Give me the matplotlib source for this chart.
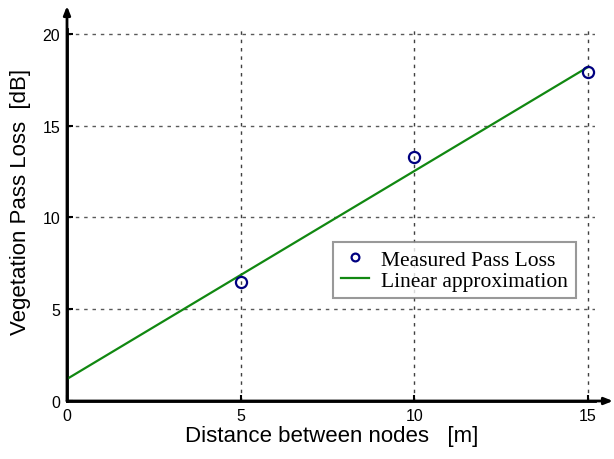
import matplotlib
matplotlib.use("Agg")
import matplotlib.pyplot as plt
import numpy as np

# measured loss at each node spacing
distance = [5, 10, 15]
pass_loss = [6.5, 13.3, 17.9]

# fitted line end points
fit_x = [0, 15]
fit_y = [1.2, 18.2]

xticks = [0, 5, 10, 15]
yticks = [0, 5, 10, 15, 20]

W, H = 614, 460
fig = plt.figure(figsize=(W / 100, H / 100), dpi=100)
ax = fig.add_axes([67 / W, 58 / H, 528 / W, 372 / H])
ax.set_xlim(0, 15.2)
ax.set_ylim(0, 20.27)

# dotted grid, drawn by hand so it stops at the axis limits
for x in xticks[1:]:
    ax.plot([x, x], [0, 20.27], color="0.25", lw=1, ls=(0, (2.5, 3.5)), zorder=1)
for y in yticks[1:]:
    ax.plot([0, 15.2], [y, y], color="0.35", lw=1, ls=(0, (2.5, 3.5)), zorder=1)

ax.plot(fit_x, fit_y, color="#118811", lw=1.6, label="Linear approximation", zorder=3)
ax.plot(distance, pass_loss, ls="none", marker="o", ms=8, mfc="none", mec="#000080",
        mew=1.6, label="Measured Pass Loss", zorder=4)

for s in ["top", "right"]:
    ax.spines[s].set_visible(False)
for s in ["left", "bottom"]:
    ax.spines[s].set_linewidth(2)

# axis arrows past the limits
ax.annotate("", xy=(613 / W, 58 / H), xytext=(67 / W, 58 / H), xycoords="figure fraction",
            arrowprops=dict(arrowstyle="-|>,head_length=0.5,head_width=0.2", lw=2, color="black",
                            shrinkA=0, shrinkB=0))
ax.annotate("", xy=(67 / W, 1 - 7 / H), xytext=(67 / W, 58 / H), xycoords="figure fraction",
            arrowprops=dict(arrowstyle="-|>,head_length=0.5,head_width=0.2", lw=2, color="black",
                            shrinkA=0, shrinkB=0))

ax.set_xticks(xticks)
ax.set_yticks(yticks)
ax.tick_params(direction="in", length=4, width=1.5, labelsize=11.5, pad=5,
               labelfontfamily="Liberation Sans")

ax.set_xlabel("Distance between nodes   [m]", fontsize=16, family="Liberation Sans")
ax.set_ylabel("Vegetation Pass Loss  [dB]", fontsize=16, family="Liberation Sans")
ax.xaxis.set_label_coords(0.501, -0.0645)
ax.yaxis.set_label_coords(-0.068, 0.539)

handles, labels = ax.get_legend_handles_labels()
leg = ax.legend(handles[::-1], labels[::-1], loc="upper left",
                bbox_to_anchor=((333 - 67) / 528, (402 - 243) / 372),
                prop={"family": "Liberation Serif", "size": 15.5},
                frameon=True, fancybox=False, edgecolor="0.5", handlelength=1.3,
                handletextpad=0.6, borderpad=0.35, labelspacing=0.05, borderaxespad=0,
                markerscale=0.7)
leg.get_frame().set_linewidth(1.5)

fig.savefig("out.png", dpi=100)
